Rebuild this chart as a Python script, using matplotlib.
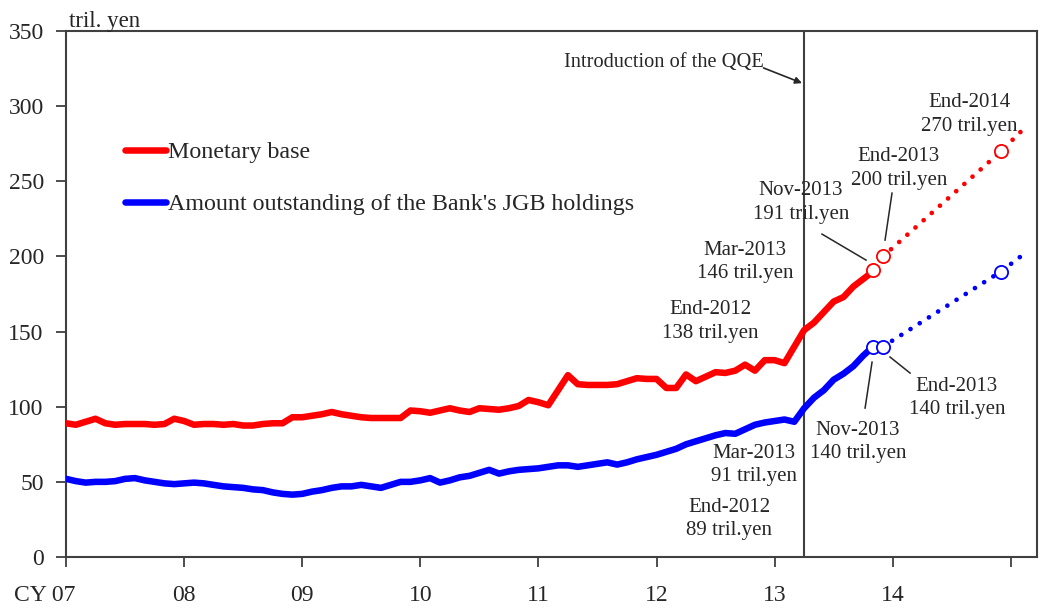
import numpy as np
import matplotlib
matplotlib.use("Agg")
import matplotlib.pyplot as plt
from matplotlib.transforms import ScaledTranslation

plt.rcParams['font.family'] = ['Liberation Serif', 'DejaVu Serif']

# monthly data, Jan 2007 - Nov 2013 (tril. yen)
start_year = 2007
monetary_base = [
    89, 88, 90, 92, 89, 88, 88.5, 88.5, 88.5, 88, 88.5, 92,
    90.5, 88, 88.5, 88.5, 88, 88.5, 87.5, 87.5, 88.5, 89, 89, 93,
    93, 94, 95, 96.5, 95, 94, 93, 92.5, 92.5, 92.5, 92.5, 97.5,
    97, 96, 97.5, 99, 97.5, 96.5, 99, 98.5, 98, 99, 100.5, 104.5,
    103, 101, 111, 121, 115, 114.5, 114.5, 114.5, 115, 117, 119, 118.5,
    118.5, 112.5, 112.5, 121.5, 117, 120, 123, 122.5, 124, 128, 124, 131,
    131, 129, 140, 151, 156, 163, 170, 173, 180, 185, 190,
]
jgb_holdings = [
    52, 50.5, 49.5, 50, 50, 50.5, 52, 52.5, 51, 50, 49, 48.5,
    49, 49.5, 49, 48, 47, 46.5, 46, 45, 44.5, 43, 42, 41.5,
    42, 43.5, 44.5, 46, 47, 47, 48, 47, 46, 48, 50, 50,
    51, 52.5, 49.5, 51, 53, 54, 56, 58, 55.5, 57, 58, 58.5,
    59, 60, 61, 61, 60, 61, 62, 63, 61.5, 63, 65, 66.5,
    68, 70, 72, 75, 77, 79, 81, 82.5, 82, 85, 88, 89.5,
    90.5, 91.5, 90, 99, 106, 111, 118, 122, 127, 134, 140,
]

# projections (year, month) -> value
proj_months = [(2013, 12), (2014, 12), (2015, 2)]
mb_proj = [200, 270, 283]
jgb_proj = [140, 190, 200]

# marked points
mb_marks = [((2013, 11), 191), ((2013, 12), 200), ((2014, 12), 270)]
jgb_marks = [((2013, 11), 140), ((2013, 12), 140), ((2014, 12), 190)]

qqe_month = (2013, 4)

years = list(range(2007, 2016))
year_labels = ["CY 07", "08", "09", "10", "11", "12", "13", "14", ""]


def ym(y, m):
    return y + (m - 1) / 12.0


t = start_year + np.arange(len(monetary_base)) / 12.0
RED = "#ff0000"
BLUE = "#0000ff"
TXT = "#262626"
GRAY = "#404040"

fig = plt.figure(figsize=(10.41, 6.10), dpi=100)
ax = fig.add_axes([0.0634, 0.0869, 0.9328, 0.8621])

ax.plot(t, monetary_base, color=RED, lw=4.7, solid_joinstyle='round',
        solid_capstyle='round', label="Monetary base", zorder=3)
ax.plot(t, jgb_holdings, color=BLUE, lw=4.7, solid_joinstyle='round',
        solid_capstyle='round',
        label="Amount outstanding of the Bank's JGB holdings", zorder=3)

px = [ym(y, m) for y, m in proj_months]
ax.plot(px, mb_proj, color=RED, lw=3.4, linestyle=(0, (0.01, 2.3)),
        dash_capstyle='round', zorder=3)
ax.plot(px, jgb_proj, color=BLUE, lw=3.4, linestyle=(0, (0.01, 2.3)),
        dash_capstyle='round', zorder=3)

for marks, col in ((mb_marks, RED), (jgb_marks, BLUE)):
    mx = [ym(y, m) for (y, m), v in marks]
    mv = [v for _, v in marks]
    ax.plot(mx, mv, 'o', ms=9.5, mfc='white', mec=col, mew=1.3, zorder=4)

ax.axvline(ym(*qqe_month), color=GRAY, lw=1.5, zorder=2)

# annotations
fs = 15
ax.annotate("Introduction of the QQE", xy=(2013.232, 315.4),
            xytext=(2012.06, 329.3), ha='center', va='center', fontsize=14.7,
            color=TXT,
            arrowprops=dict(arrowstyle='-|>', color=TXT, lw=1.2,
                            mutation_scale=10, shrinkA=0, shrinkB=0,
                            patchA=None, relpos=(1.0, 0.2)))

notes = [
    ("End-2014\n270 tril.yen", 2014.646, 294.7),
    ("End-2013\n200 tril.yen", 2014.053, 258.8),
    ("Nov-2013\n191 tril.yen", 2013.224, 236.2),
    ("Mar-2013\n146 tril.yen", 2012.749, 196.3),
    ("End-2012\n138 tril.yen", 2012.453, 157.0),
    ("End-2013\n140 tril.yen", 2014.544, 105.8),
    ("Nov-2013\n140 tril.yen", 2013.706, 76.5),
    ("Mar-2013\n91 tril.yen", 2012.826, 61.2),
    ("End-2012\n89 tril.yen", 2012.614, 25.3),
]
for s, x, y in notes:
    ax.text(x, y, s, ha='center', va='center', fontsize=fs, color=TXT,
            linespacing=1.35, zorder=5)

leaders = [
    ((2013.994, 242.2), (2013.935, 210.9)),
    ((2013.401, 214.9), (2013.774, 197.6)),
    ((2013.977, 133.1), (2014.147, 122.4)),
    ((2013.825, 129.7), (2013.766, 99.1)),
]
for (x0, y0), (x1, y1) in leaders:
    ax.plot([x0, x1], [y0, y1], color=TXT, lw=1.1, zorder=4)

ax.legend(loc='upper left', bbox_to_anchor=(0.0608, 0.79), frameon=False,
          fontsize=17.3, handlelength=1.7, handletextpad=0.1, labelspacing=1.25,
          borderpad=0, borderaxespad=0, labelcolor=TXT)

ax.set_xlim(2007, 2015.222)
ax.set_ylim(0, 350)
ax.set_yticks(np.arange(0, 351, 50))
ax.set_xticks(years)
ax.set_xticklabels(year_labels)
ax.tick_params(axis='both', direction='out', length=7, width=1.3,
               color=GRAY, labelsize=17, labelcolor=TXT)
ax.tick_params(axis='x', pad=13)
ax.tick_params(axis='y', pad=9)
for sp in ax.spines.values():
    sp.set_color(GRAY)
    sp.set_linewidth(1.5)

# first label "CY 07": keep "07" under its tick
lab0 = ax.get_xticklabels()[0]
lab0.set_horizontalalignment('right')
lab0.set_transform(lab0.get_transform() +
                   ScaledTranslation(7 / 72, 0, fig.dpi_scale_trans))

ax.text(0.003, 0.999, "tril. yen", transform=ax.transAxes, ha='left',
        va='bottom', fontsize=16.5, color=TXT)

fig.savefig("out.png", dpi=100)
